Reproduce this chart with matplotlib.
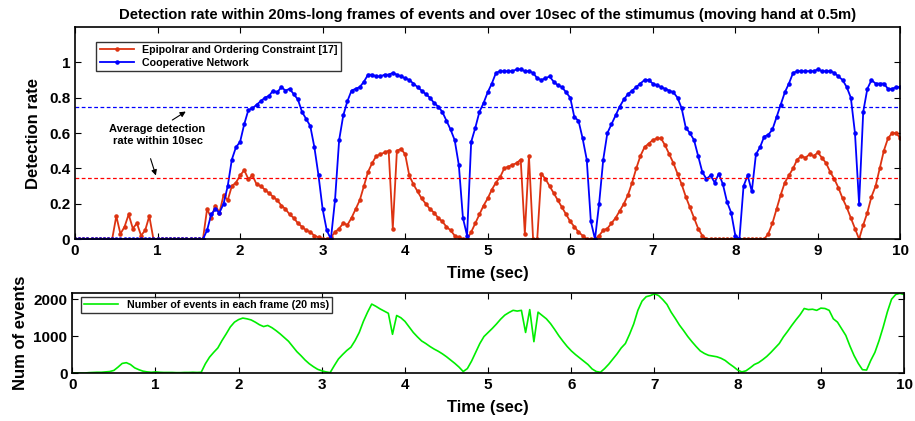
import numpy as np
import matplotlib
matplotlib.use('Agg')
from matplotlib import pyplot as plt

# time axis: one value every 50 ms over 10 sec
t = np.linspace(0, 10, 201)

# Detection rate - Cooperative Network (blue)
coop = [0, 0, 0, 0, 0, 0, 0, 0, 0, 0,
        0, 0, 0, 0, 0, 0, 0, 0, 0, 0,
        0, 0, 0, 0, 0, 0, 0, 0, 0, 0,
        0, 0, 0.05, 0.14, 0.17, 0.15, 0.20, 0.30, 0.45, 0.52,
        0.55, 0.65, 0.73, 0.74, 0.76, 0.78, 0.80, 0.81, 0.84, 0.83,
        0.86, 0.84, 0.85, 0.82, 0.79, 0.72, 0.68, 0.64, 0.52, 0.36,
        0.17, 0.05, 0.0, 0.22, 0.56, 0.70, 0.78, 0.84, 0.85, 0.86,
        0.89, 0.93, 0.93, 0.92, 0.92, 0.93, 0.93, 0.94, 0.93, 0.92,
        0.91, 0.90, 0.88, 0.86, 0.84, 0.82, 0.80, 0.77, 0.75, 0.72,
        0.67, 0.62, 0.56, 0.42, 0.12, 0.02, 0.55, 0.63, 0.72, 0.77,
        0.83, 0.88, 0.94, 0.95, 0.95, 0.95, 0.95, 0.96, 0.96, 0.95,
        0.95, 0.94, 0.91, 0.90, 0.91, 0.92, 0.89, 0.87, 0.86, 0.83,
        0.80, 0.69, 0.67, 0.57, 0.45, 0.10, 0.0, 0.20, 0.45, 0.60,
        0.65, 0.70, 0.75, 0.79, 0.82, 0.84, 0.86, 0.88, 0.90, 0.90,
        0.88, 0.87, 0.86, 0.85, 0.84, 0.83, 0.80, 0.74, 0.63, 0.60,
        0.56, 0.47, 0.38, 0.34, 0.36, 0.32, 0.37, 0.31, 0.21, 0.15,
        0.02, 0.0, 0.30, 0.36, 0.27, 0.48, 0.52, 0.58, 0.59, 0.62,
        0.69, 0.76, 0.83, 0.88, 0.94, 0.95, 0.95, 0.95, 0.95, 0.95,
        0.96, 0.95, 0.95, 0.95, 0.94, 0.92, 0.90, 0.86, 0.80, 0.60,
        0.20, 0.72, 0.85, 0.90, 0.88, 0.88, 0.88, 0.85, 0.85, 0.86,
        0.86]

# Detection rate - Epipolar and Ordering Constraint (red)
epi = [0, 0, 0, 0, 0, 0, 0, 0, 0, 0,
       0.13, 0.03, 0.07, 0.14, 0.06, 0.09, 0.02, 0.05, 0.13, 0,
       0, 0, 0, 0, 0, 0, 0, 0, 0, 0,
       0, 0, 0.17, 0.12, 0.19, 0.15, 0.25, 0.22, 0.30, 0.32,
       0.36, 0.39, 0.34, 0.36, 0.31, 0.30, 0.28, 0.26, 0.24, 0.22,
       0.19, 0.17, 0.14, 0.12, 0.09, 0.07, 0.05, 0.04, 0.02, 0.01,
       0.0, 0.0, 0.01, 0.04, 0.06, 0.09, 0.08, 0.12, 0.17, 0.22,
       0.30, 0.38, 0.43, 0.47, 0.48, 0.49, 0.50, 0.06, 0.50, 0.51,
       0.48, 0.36, 0.31, 0.27, 0.23, 0.20, 0.17, 0.15, 0.12, 0.10,
       0.07, 0.05, 0.02, 0.01, 0.0, 0.0, 0.04, 0.09, 0.14, 0.19,
       0.23, 0.28, 0.32, 0.35, 0.40, 0.41, 0.42, 0.43, 0.45, 0.03,
       0.47, 0.0, 0.0, 0.37, 0.34, 0.30, 0.26, 0.22, 0.18, 0.14,
       0.10, 0.07, 0.04, 0.02, 0.0, 0.0, 0.0, 0.02, 0.05, 0.06,
       0.09, 0.12, 0.16, 0.20, 0.25, 0.32, 0.40, 0.47, 0.52, 0.54,
       0.56, 0.57, 0.57, 0.53, 0.48, 0.43, 0.37, 0.31, 0.24, 0.18,
       0.12, 0.06, 0.02, 0, 0, 0, 0, 0, 0, 0,
       0, 0, 0, 0, 0, 0, 0, 0, 0.03, 0.09,
       0.17, 0.25, 0.32, 0.36, 0.40, 0.45, 0.47, 0.46, 0.48, 0.47,
       0.49, 0.46, 0.43, 0.38, 0.34, 0.29, 0.23, 0.18, 0.12, 0.06,
       0.0, 0.08, 0.15, 0.24, 0.30, 0.40, 0.50, 0.57, 0.60, 0.60,
       0.57]

# average detection rate over the 10 sec
avg_coop = 0.745
avg_epi = 0.347

# number of events per frame (green)
events = [0, 0, 0, 0, 10, 15, 20, 20, 30, 40,
          70, 160, 260, 280, 230, 140, 90, 50, 30, 20,
          30, 20, 15, 15, 15, 10, 10, 15, 15, 20,
          15, 20, 250, 430, 560, 680, 880, 1060, 1250, 1380,
          1450, 1490, 1470, 1440, 1380, 1310, 1260, 1290, 1230, 1150,
          1060, 960, 860, 720, 580, 470, 350, 250, 170, 100,
          60, 30, 10, 200, 380, 500, 610, 700, 880, 1100,
          1400, 1650, 1870, 1810, 1740, 1680, 1620, 1050, 1560, 1500,
          1400, 1250, 1100, 980, 870, 800, 720, 650, 590, 520,
          440, 350, 260, 160, 40, 120, 320, 560, 800, 990,
          1100, 1210, 1330, 1460, 1570, 1640, 1700, 1680, 1700, 1100,
          1720, 850, 1650, 1560, 1470, 1340, 1180, 1010, 860, 720,
          600, 500, 410, 320, 230, 110, 40, 20, 120, 240,
          380, 520, 680, 800, 1050, 1330, 1700, 1950, 2070, 2100,
          2150, 2100, 1990, 1860, 1650, 1480, 1300, 1150, 990, 850,
          720, 600, 530, 480, 460, 440, 400, 340, 250, 170,
          80, 30, 60, 140, 230, 280, 360, 450, 560, 680,
          800, 980, 1130, 1290, 1440, 1580, 1750, 1720, 1730, 1700,
          1760, 1750, 1700, 1470, 1380, 1200, 1020, 730, 470, 260,
          90, 80, 340, 560, 880, 1250, 1660, 2000, 2130, 2160,
          2130]

plt.rcParams['font.family'] = ['Liberation Sans', 'DejaVu Sans']
plt.rcParams['font.weight'] = 'bold'

fig = plt.figure(figsize=(9.15, 4.21), dpi=100)
ax1 = fig.add_axes([0.082, 0.432, 0.902, 0.504])
ax2 = fig.add_axes([0.079, 0.114, 0.909, 0.190])

red = '#dd3311'
ax1.plot(t, epi, '-', color=red, marker='.', ms=4.5, lw=1.3,
         label='Epipolrar and Ordering Constraint [17]')
ax1.plot(t, coop, '-', color='#0000ff', marker='.', ms=4.5, lw=1.3,
         label='Cooperative Network')
ax1.axhline(avg_coop, color='#0000ff', ls='--', lw=0.9, dashes=(3, 2))
ax1.axhline(avg_epi, color='#ff0000', ls='--', lw=0.9, dashes=(3, 2))

ax1.text(1.0, 0.59, 'Average detection\nrate within 10sec', ha='center',
         va='center', fontsize=8, fontweight='bold', linespacing=1.3)
ax1.annotate('', xy=(1.37, 0.73), xytext=(1.15, 0.665),
             arrowprops=dict(arrowstyle='-|>', color='k', lw=0.8, mutation_scale=8))
ax1.annotate('', xy=(0.99, 0.345), xytext=(0.905, 0.47),
             arrowprops=dict(arrowstyle='-|>', color='k', lw=0.8, mutation_scale=8))

ax1.set_xlim(0, 10)
ax1.set_ylim(0, 1.2)
ax1.set_yticks([0, 0.2, 0.4, 0.6, 0.8, 1])
ax1.set_yticklabels(['0', '0.2', '0.4', '0.6', '0.8', '1'])
ax1.set_xticks(range(11))
ax1.set_xlabel('Time (sec)', fontsize=12, fontweight='bold', labelpad=6)
ax1.set_ylabel('Detection rate', fontsize=12, fontweight='bold', labelpad=6)
ax1.set_title('Detection rate within 20ms-long frames of events and over 10sec of the stimumus (moving hand at 0.5m)',
              fontsize=10.7, fontweight='bold', pad=6)
leg1 = ax1.legend(loc='upper left', bbox_to_anchor=(0.026, 0.93), fontsize=7.7,
                  frameon=True, fancybox=False, edgecolor='k', borderaxespad=0,
                  handlelength=3.2, labelspacing=0.3, borderpad=0.3)
leg1.get_frame().set_linewidth(1.0)

ax2.plot(t, events, '-', color='#00ee00', lw=1.2,
         label='Number of events in each frame (20 ms)')
ax2.set_xlim(0, 10)
ax2.set_ylim(0, 2170)
ax2.set_yticks([0, 1000, 2000])
ax2.set_xticks(range(11))
ax2.set_xlabel('Time (sec)', fontsize=12, fontweight='bold', labelpad=6)
ax2.set_ylabel('Num of events', fontsize=12, fontweight='bold')
leg2 = ax2.legend(loc='upper left', bbox_to_anchor=(0.01, 0.95), fontsize=7.7,
                  frameon=True, fancybox=False, edgecolor='k', borderaxespad=0,
                  handlelength=3.2, borderpad=0.3)
leg2.get_frame().set_linewidth(1.0)

for ax in (ax1, ax2):
    ax.tick_params(direction='in', top=True, right=True, labelsize=11, length=4)
    for lbl in ax.get_xticklabels() + ax.get_yticklabels():
        lbl.set_fontweight('bold')
    for s in ax.spines.values():
        s.set_linewidth(1.2)

fig.savefig('out.png', dpi=100)
